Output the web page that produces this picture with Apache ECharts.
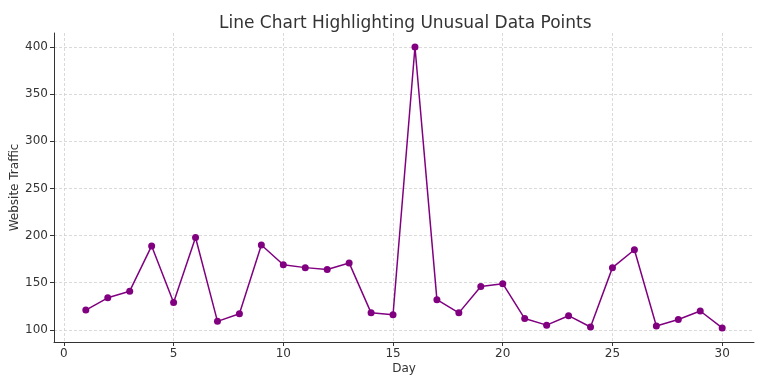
<!DOCTYPE html>
<html><head><meta charset="utf-8">
<script src="https://cdn.jsdelivr.net/npm/echarts@6/dist/echarts.min.js"></script>
<style>html,body{margin:0;padding:0;background:#fff}#c{width:761px;height:381px}</style>
</head><body><div id="c"></div>
<script>
const days = [1,2,3,4,5,6,7,8,9,10,11,12,13,14,15,16,17,18,19,20,21,22,23,24,25,26,27,28,29,30];
const traffic = [121,134,141,189,129,198,109,117,190,169,166,164,171,118,116,400,132,118,146,149,112,105,115,103,166,185,104,111,120,102];
const xTicks = [0,5,10,15,20,25,30];
const yTicks = [100,150,200,250,300,350,400];

const chart = echarts.init(document.getElementById('c'), null, {renderer:'canvas'});
const font = 'DejaVu Sans';
chart.setOption({
  animation:false,
  title:{text:'Line Chart Highlighting Unusual Data Points',left:214,top:10,
    textStyle:{fontFamily:font,fontSize:17,fontWeight:'normal',color:'#333'}},
  grid:{left:54,right:7,top:33,bottom:39,containLabel:false,outerBoundsMode:'none'},
  xAxis:{type:'value',min:-0.45,max:31.45,name:'Day',nameLocation:'middle',nameGap:21,nameMoveOverlap:false,
    nameTextStyle:{fontFamily:font,fontSize:12,color:'#333'},
    axisLine:{show:true,onZero:false,lineStyle:{color:'#333',width:1}},
    axisTick:{show:true,length:4,customValues:xTicks,lineStyle:{color:'#333'}},
    axisLabel:{customValues:xTicks,fontFamily:font,fontSize:12,color:'#333',margin:6},
    splitLine:{show:true,customValues:xTicks,lineStyle:{color:'#d0d0d0',type:[3,2],width:0.8}}},
  yAxis:{type:'value',min:87.1,max:414.9,name:'Website Traffic',nameLocation:'middle',nameGap:33,nameMoveOverlap:false,
    nameTextStyle:{fontFamily:font,fontSize:12,color:'#333'},
    axisLine:{show:true,onZero:false,lineStyle:{color:'#333',width:1}},
    axisTick:{show:true,length:4,customValues:yTicks,lineStyle:{color:'#333'}},
    axisLabel:{customValues:yTicks,fontFamily:font,fontSize:12,color:'#333',margin:6},
    splitLine:{show:true,customValues:yTicks,lineStyle:{color:'#d0d0d0',type:[3,2],width:0.8}}},
  series:[{type:'line',data:days.map((d,i)=>[d,traffic[i]]),
    lineStyle:{color:'#800080',width:1.5},itemStyle:{color:'#800080'},
    symbol:'circle',symbolSize:7,showSymbol:true}]
});
</script></body></html>
